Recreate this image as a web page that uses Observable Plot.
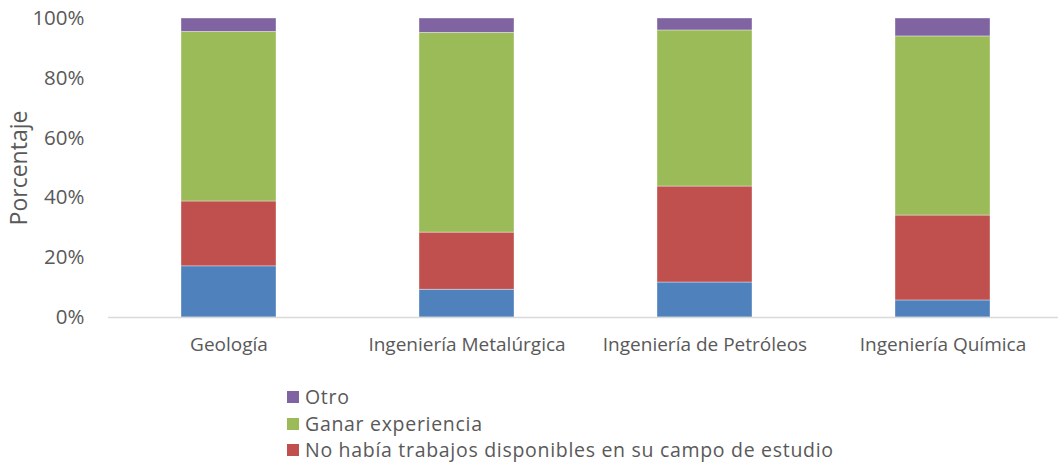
<!DOCTYPE html>
<html>
<head>
<meta charset="utf-8">
<script src="https://cdn.jsdelivr.net/npm/d3@7"></script>
<script src="https://cdn.jsdelivr.net/npm/@observablehq/plot@0.6"></script>
<style>
  html, body { margin: 0; padding: 0; background: #fff; }
  body { width: 1058px; height: 464px; overflow: hidden; font-family: "Open Sans", sans-serif; }
  #legend { position: absolute; left: 287px; top: 384px; font-size: 19.5px; letter-spacing: 0.7px; color: #595959; }
  .item { display: flex; align-items: center; white-space: nowrap; height: 26.5px; line-height: 26.5px; }
  .sw { width: 12px; height: 12px; margin-right: 6px; display: inline-block; flex: none; }
</style>
</head>
<body>
<div id="chart"></div>
<div id="legend"></div>
<script>
const categories = ["Geología", "Ingeniería Metalúrgica", "Ingeniería de Petróleos", "Ingeniería Química"];
const seriesNames = ["Serie 1", "No había trabajos disponibles en su campo de estudio", "Ganar experiencia", "Otro"];
const seriesColors = ["#4f81bd", "#c0504d", "#9bbb59", "#8064a2"];
const blueValues = [17.1, 9.3, 11.7, 5.7];
const noTrabajos = [21.7, 19.1, 32.1, 28.4];
const ganarExperiencia = [56.7, 66.8, 52.2, 59.9];
const otro = [4.5, 4.8, 4.0, 6.0];
const yTicks = [0, 20, 40, 60, 80, 100];
const legendSeries = ["Otro", "Ganar experiencia", "No había trabajos disponibles en su campo de estudio"];

const valuesBySeries = [blueValues, noTrabajos, ganarExperiencia, otro];
const data = [];
seriesNames.forEach((s, si) => categories.forEach((c, ci) => data.push({ category: c, series: s, value: valuesBySeries[si][ci] })));

const chart = Plot.plot({
  width: 1058,
  height: 366,
  marginTop: 18,
  marginBottom: 49,
  marginLeft: 108,
  marginRight: 0,
  style: { fontFamily: "'Open Sans', sans-serif", color: "#595959", background: "#fff" },
  x: { domain: categories, range: [107.5, 1063], paddingInner: 0.6, paddingOuter: 0.3, label: null, tickSize: 0 },
  y: { domain: [0, 100], ticks: yTicks, tickFormat: d => d + "%", label: null, tickSize: 0 },
  color: { domain: seriesNames, range: seriesColors },
  marks: [
    Plot.barY(data, Plot.stackY({ order: seriesNames }, { x: "category", y: "value", fill: "series", stroke: "#ffffff", strokeWidth: 0.6, strokeOpacity: 0.6 })),
    Plot.ruleY([0], { stroke: "#d9d9d9", strokeWidth: 1.5 }),
    Plot.axisY({ ticks: yTicks, tickFormat: d => d + "%", tickSize: 0, tickPadding: 24, fontSize: 20.5, fill: "#595959", label: null }),
    Plot.axisX({ tickSize: 0, tickPadding: 20, fontSize: 19, fill: "#595959", label: null }),
    Plot.text(["Porcentaje"], { frameAnchor: "left", textAnchor: "middle", dx: -89, rotate: -90, fontSize: 23, fill: "#595959" })
  ]
});
document.getElementById("chart").appendChild(chart);

const legend = document.getElementById("legend");
legendSeries.forEach(name => {
  const item = document.createElement("div");
  item.className = "item";
  const sw = document.createElement("span");
  sw.className = "sw";
  sw.style.background = seriesColors[seriesNames.indexOf(name)];
  item.appendChild(sw);
  item.appendChild(document.createTextNode(name));
  legend.appendChild(item);
});
</script>
</body>
</html>
